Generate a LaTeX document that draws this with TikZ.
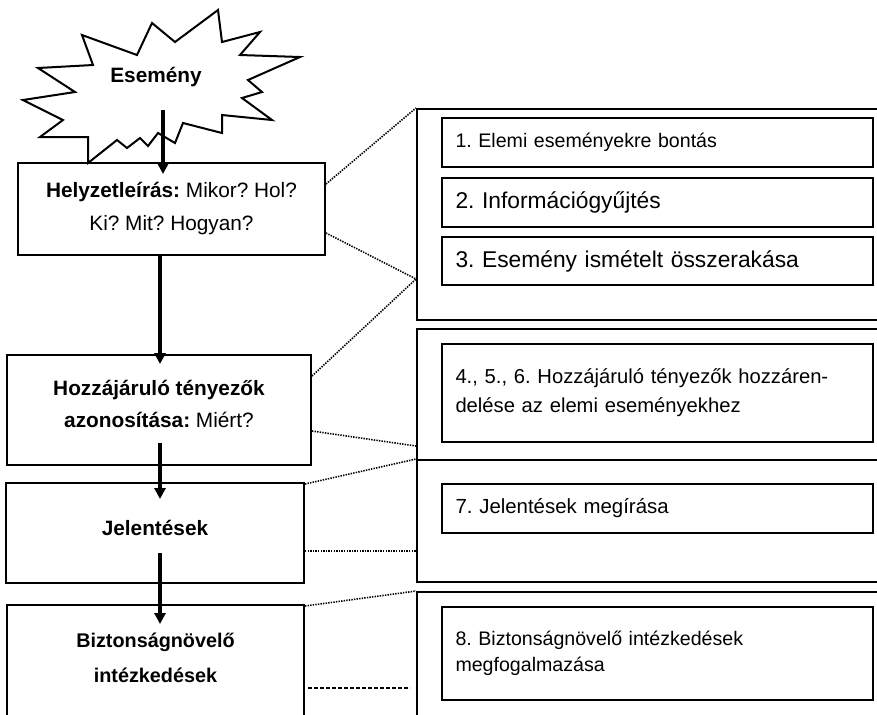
\documentclass[tikz,border=0pt]{standalone}
\usepackage{fontspec}
\setmainfont{Liberation Sans}
\usetikzlibrary{arrows.meta}

\begin{document}
\frenchspacing
\begin{tikzpicture}[x=0.5pt,y=-0.5pt,
  lbox/.style={draw,line width=1pt,align=center,font=\fontsize{10.4}{16.5}\selectfont},
  ltext/.style={align=center,font=\fontsize{10.4}{17.5}\selectfont\bfseries},
  frame/.style={draw,line width=1pt,minimum width=241.5pt},
  ibox/.style={draw,line width=1pt,minimum width=215.5pt,text width=202pt,inner xsep=6.5pt,align=left,font=\fontsize{11.4}{14.5}\selectfont},
  flow/.style={line width=2pt,-{Triangle[width=5.5pt,length=5.5pt]}},
  link/.style={line width=0.8pt,dash pattern=on 0.7pt off 0.6pt}]
\useasboundingbox (0,0) rectangle (877,714);
\clip (0,0) rectangle (877,714);

% the spark
\draw[line width=1pt,line join=miter] (88,163) -- (117,140) -- (127,148) -- (140,138) -- (148,146) -- (158,133)
  -- (175,143) -- (183,123) -- (222,133) -- (222,115) -- (272,120) -- (242,98) -- (262,92) -- (248,80)
  -- (300,57) -- (240,55) -- (260,32) -- (222,42) -- (218,10) -- (175,42) -- (152,23) -- (137,55)
  -- (82,35) -- (93,65) -- (38,68) -- (75,92) -- (23,100) -- (63,120) -- (40,137) -- (88,137) -- cycle;
\node[font=\fontsize{10.4}{12}\selectfont\bfseries] (esemeny) at (156,77) {Esemény};

% steps on the left
\node[lbox,minimum width=153.5pt,minimum height=46pt] (helyzet) at (171.5,209) {\textbf{Helyzetleírás:} Mikor? Hol?\\Ki? Mit? Hogyan?};
\node[lbox,minimum width=152pt,minimum height=55pt] (hozza) at (159,410) {};
\node[ltext,font=\fontsize{10.4}{16}\selectfont] (hozzatxt) at (159,404) {\textbf{Hozzájáruló tényezők}\\\textbf{azonosítása:} Miért?};
\node[lbox,minimum width=149pt,minimum height=50pt] (jelent) at (155,533) {};
\node[ltext] (jelenttxt) at (155,528) {Jelentések};
\node[lbox,minimum width=148.5pt,minimum height=83pt] (bizt) at (155.5,688) {};
\node[ltext,font=\fontsize{9.9}{17.5}\selectfont\bfseries] (bizttxt) at (155.5,658) {Biztonságnövelő\\intézkedések};

\coordinate (spark) at (163,110);
\coordinate (axis) at (160,0);
\draw[flow,shorten >=-6pt] (spark) -- (spark |- helyzet.north);
\draw[flow,shorten >=-5pt] (axis |- helyzet.south) -- (axis |- hozza.north);
\draw[flow,shorten <=-11.5pt,shorten >=-8.5pt] (axis |- hozza.south) -- (axis |- jelent.north);
\draw[flow,shorten <=-15.5pt,shorten >=-10pt] (axis |- jelent.south) -- (axis |- bizt.north);

% frames on the right
\node[frame,minimum height=105.5pt] (frame1) at (658.5,214.5) {};
\node[frame,minimum height=65.5pt] (frame2) at (658.5,394.5) {};
\node[frame,minimum height=61pt] (frame3) at (658.5,521) {};
\node[frame,minimum height=84pt] (frame4) at (658.5,676) {};

\node[ibox,minimum height=24.5pt,font=\fontsize{9.8}{13}\selectfont] (b1) at (657.5,142.5) {1. Elemi eseményekre bontás};
\node[ibox,minimum height=24.5pt] (b2) at (657.5,202.5) {2. Információgyűjtés};
\node[ibox,minimum height=24pt] (b3) at (657.5,261) {3. Esemény ismételt összerakása};
\node[ibox,minimum height=49pt,font=\fontsize{10.1}{14.5}\selectfont] (b4) at (657.5,393) {4., 5., 6. Hozzájáruló tényezők hozzáren-\\delése az elemi eseményekhez};
\node[ibox,minimum height=24.5pt,font=\fontsize{10.2}{13}\selectfont] (b7) at (657.5,508.5) {7. Jelentések megírása};
\node[ibox,minimum height=46.5pt,font=\fontsize{9.8}{13}\selectfont] (b8) at (657.5,653.5) {8. Biztonságnövelő intézkedések\\megfogalmazása\\[3pt]};

% links between the two columns
\draw[link] ([yshift=-11pt]helyzet.north east) -- (frame1.north west);
\draw[link] ([yshift=11.5pt]helyzet.south east) -- ([yshift=21pt]frame1.south west);
\draw[link] ([yshift=-11pt]hozza.north east) -- ([yshift=21pt]frame1.south west);
\draw[link] ([yshift=17.5pt]hozza.south east) -- ([yshift=7.5pt]frame2.south west);
\draw[link] ([yshift=-1pt]jelent.north east) -- (frame3.north west);
\draw[link] ([yshift=-9pt]jelent.east) -- ([yshift=-9pt]jelent.east -| frame3.west);
\draw[link] ([yshift=-1pt]bizt.north east) -- (frame4.north west);
\draw[line width=0.7pt,dash pattern=on 2pt off 1pt,shorten <=1.5pt,shorten >=3pt] (bizt.east) -- (bizt.east -| frame4.west);
\end{tikzpicture}
\end{document}
